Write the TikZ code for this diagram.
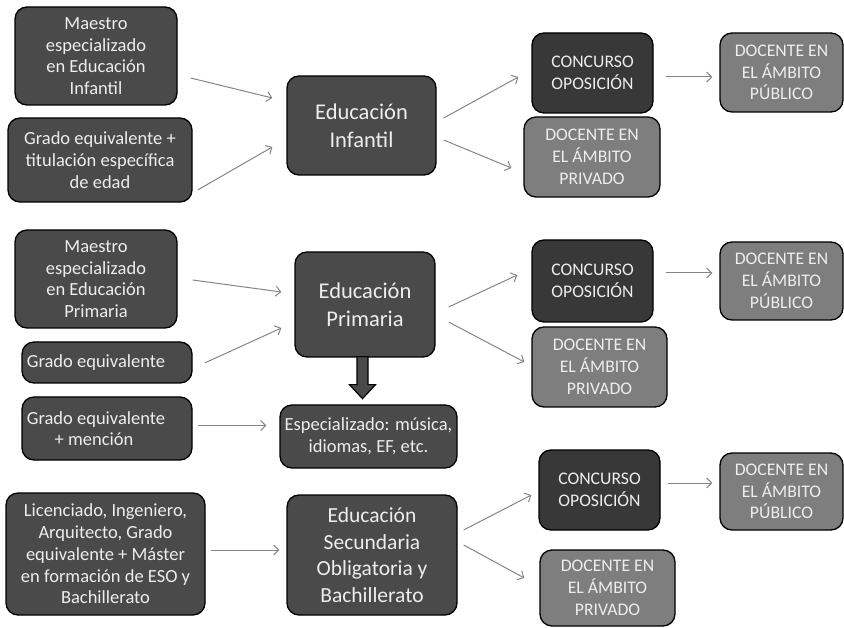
\documentclass[tikz,border=0pt]{standalone}
\usepackage{fontspec}
\setmainfont{Carlito}
\usetikzlibrary{arrows.meta,calc}
\definecolor{boxdark}{HTML}{4A4A4A}
\definecolor{boxconc}{HTML}{383838}
\definecolor{boxgray}{HTML}{7E7E7E}
\definecolor{boxtext}{HTML}{EDEDED}
\definecolor{arrowgray}{HTML}{858585}
\begin{document}
\begin{tikzpicture}[x=1pt,y=-1pt,
  box/.style={draw=black, line width=1.3pt, rounded corners=12pt, text=boxtext,
    align=center, inner sep=0pt, font=\fontsize{18.5}{21.7}\selectfont},
  origen/.style={box, fill=boxdark},
  nivel/.style={box, fill=boxdark, font=\fontsize{22.5}{28}\selectfont},
  concurso/.style={box, fill=boxconc, font=\fontsize{17.7}{22.5}\selectfont},
  docente/.style={box, fill=boxgray, font=\fontsize{17.7}{21.7}\selectfont},
  flecha/.style={draw=arrowgray, line width=1pt, -{Straight Barb[length=5pt,width=10pt]}},
  gruesa/.style={draw=black, line width=1.2pt, fill=boxdark}]
  \useasboundingbox (0,0) rectangle (844,628);

  \node[origen, minimum width=162pt, minimum height=98pt] (mInf) at (96,56)
    {Maestro\\especializado\\en Educación\\Infantil};
  \node[origen, minimum width=184pt, minimum height=84pt] (gInf) at (100,160)
    {Grado equivalente +\\titulación específica\\de edad};
  \node[nivel, minimum width=149pt, minimum height=99pt] (eInf) at (361.5,125.5)
    {Educación\\Infantil};
  \node[concurso, minimum width=121pt, minimum height=80pt] (cInf) at (592.5,73)
    {CONCURSO\\OPOSICIÓN};
  \node[docente, minimum width=123pt, minimum height=79pt] (pubInf) at (781.5,72.5)
    {DOCENTE EN\\EL ÁMBITO\\PÚBLICO};
  \node[docente, minimum width=136pt, minimum height=80pt] (priInf) at (592,157)
    {DOCENTE EN\\EL ÁMBITO\\PRIVADO};

  \node[origen, minimum width=162pt, minimum height=98pt] (mPri) at (96,279)
    {Maestro\\especializado\\en Educación\\Primaria};
  \node[origen, minimum width=170pt, minimum height=41pt] (gPri) at (107,362.5)
    {Grado equivalente\hspace*{22pt}};
  \node[origen, minimum width=170pt, minimum height=63pt] (gMen) at (107,428.5)
    {Grado equivalente\hspace*{22pt}\\+ mención\hspace*{26pt}};
  \node[nivel, minimum width=140pt, minimum height=105pt] (ePri) at (365,304.5)
    {Educación\\Primaria};
  \node[origen, minimum width=177pt, minimum height=63pt] (esp) at (368.5,436.5)
    {Especializado: música,\\idiomas, EF, etc.};
  \node[concurso, minimum width=121pt, minimum height=82pt] (cPri) at (592.5,281)
    {CONCURSO\\OPOSICIÓN};
  \node[docente, minimum width=123pt, minimum height=78pt] (pubPri) at (781.5,281)
    {DOCENTE EN\\EL ÁMBITO\\PÚBLICO};
  \node[docente, minimum width=135pt, minimum height=80pt] (priPri) at (599.5,367)
    {DOCENTE EN\\EL ÁMBITO\\PRIVADO};

  \node[origen, minimum width=199pt, minimum height=122pt] (lic) at (105.5,554)
    {Licenciado, Ingeniero,\\Arquitecto, Grado\\equivalente + Máster\\en formación de ESO y\\Bachillerato};
  \node[nivel, font=\fontsize{21.5}{26.7}\selectfont, minimum width=170pt, minimum height=120pt] (eSec) at (372,555)
    {Educación\\Secundaria\\Obligatoria y\\Bachillerato};
  \node[concurso, minimum width=121pt, minimum height=80pt] (cSec) at (599.5,490)
    {CONCURSO\\OPOSICIÓN};
  \node[docente, minimum width=123pt, minimum height=77pt] (pubSec) at (781.5,491.5)
    {DOCENTE EN\\EL ÁMBITO\\PÚBLICO};
  \node[docente, minimum width=135pt, minimum height=76pt] (priSec) at (607.5,588)
    {DOCENTE EN\\EL ÁMBITO\\PRIVADO};

  \draw[flecha] ($(mInf.east)+(13,22)$) -- ($(eInf.west)+(-14,-27.5)$);
  \draw[flecha] ($(gInf.east)+(5,30)$) -- ($(eInf.west)+(-14,21.5)$);
  \draw[flecha] ($(eInf.east)+(7,-7.5)$) -- ($(cInf.west)+(-13,4)$);
  \draw[flecha] ($(eInf.east)+(7,14.5)$) -- ($(priInf.west)+(-12,11)$);
  \draw[flecha] ($(cInf.east)+(12,4)$) -- ($(pubInf.west)+(-7,4.5)$);

  \draw[flecha] ($(mPri.east)+(15,1)$) -- ($(ePri.west)+(-13,-12.5)$);
  \draw[flecha] ($(gPri.east)+(12,0.5)$) -- ($(ePri.west)+(-13,23.5)$);
  \draw[flecha] ($(ePri.east)+(13,2.5)$) -- ($(cPri.west)+(-14,-6)$);
  \draw[flecha] ($(ePri.east)+(13,17.5)$) -- ($(priPri.west)+(-7,-5)$);
  \draw[flecha] ($(cPri.east)+(12,-8)$) -- ($(pubPri.west)+(-7,-8)$);
  \draw[flecha] ($(gMen.east)+(5,-3)$) -- ($(esp.west)+(-13,-11)$);
  \draw[gruesa] ($(ePri.south)+(-8,-1)$) -- ++(0,28) -- ++(-7.5,0) -- ++(13,14)
    -- ++(13,-14) -- ++(-7.5,0) -- ++(0,-28) -- cycle;

  \draw[flecha] ($(lic.east)+(5,-4)$) -- ($(eSec.west)+(-7,-5)$);
  \draw[flecha] ($(eSec.east)+(6,-25)$) -- ($(cSec.west)+(-7,5)$);
  \draw[flecha] ($(eSec.east)+(6,-10)$) -- ($(priSec.west)+(-15,-10)$);
  \draw[flecha] ($(cSec.east)+(7,-7)$) -- ($(pubSec.west)+(-7,-8.5)$);
\end{tikzpicture}
\end{document}
